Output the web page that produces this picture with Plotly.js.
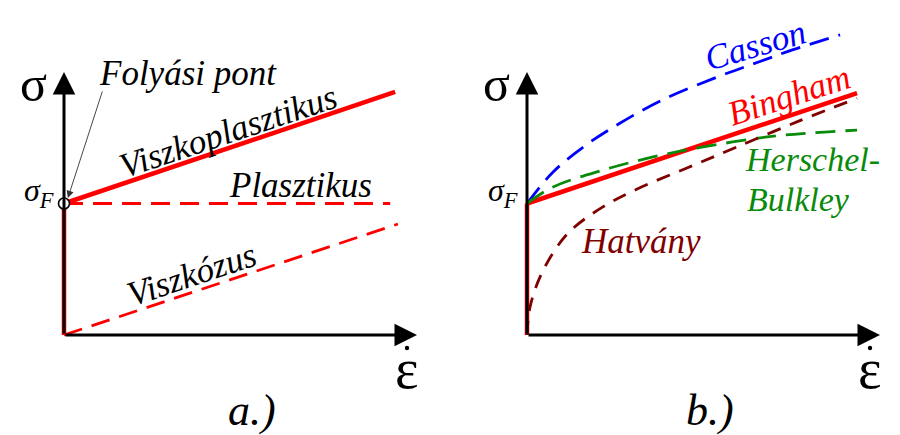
<!DOCTYPE html>
<html>
<head>
<meta charset="utf-8">
<script src="https://cdn.plot.ly/plotly-3.0.1.min.js"></script>
<style>html,body{margin:0;padding:0;background:#fff;}#chart{width:900px;height:435px;}</style>
</head>
<body>
<div id="chart"></div>
<script>
// ---- Data (panel a) ----
const yieldStress = 5;
const viscoplasticX = [0, 9.38];
const viscoplasticY = [5, 9.24];
const plasticX = [0, 9.24];
const plasticY = [5, 5];
const viscousX = [0, 9.46];
const viscousY = [0, 4.22];
const yieldRiseX = [0, 0];
const yieldRiseY = [0, 5];

// ---- Data (panel b) ----
const binghamX = [0, 9.35];
const binghamY = [5, 9.2];
const cassonX = [0, 0.74, 1.70, 2.63, 3.85, 5.47, 6.60, 7.54, 8.87];
const cassonY = [5, 6.2, 7.25, 8.05, 8.95, 9.85, 10.4, 10.85, 11.41];
const hbX = [0, 0.74, 2.15, 3.57, 4.99, 6.80, 8.02, 9.35];
const hbY = [5, 5.63, 6.27, 6.77, 7.15, 7.53, 7.68, 7.79];
const powerX = [0, 0.085, 0.37, 0.85, 1.30, 2.15, 3.12, 4.53, 5.95, 7.73, 9.35];
const powerY = [0, 1.06, 2.21, 3.35, 4.05, 4.87, 5.55, 6.35, 7.15, 8.15, 9.0];

const labelsA = ['Folyási pont', 'Viszkoplasztikus', 'Plasztikus', 'Viszkózus'];
const labelsB = ['Casson', 'Bingham', 'Herschel-', 'Bulkley', 'Hatvány'];
const panelTitles = ['a.)', 'b.)'];

const RED = '#ff0000', BLUE = '#0000ff', GREEN = '#0a8a0a', DRED = '#800000';
const SERIF = '"Liberation Serif", "Times New Roman", serif';

function ln(x, y, color, width, dash, xa, ya, shape) {
  return {x: x, y: y, xaxis: xa, yaxis: ya, mode: 'lines', type: 'scatter',
    line: {color: color, width: width, dash: dash || 'solid', shape: shape || 'linear', smoothing: 1},
    hoverinfo: 'skip', showlegend: false};
}

const traces = [
  ln(plasticX, plasticY, RED, 2.8, '19px,10px', 'x', 'y'),
  ln(viscousX, viscousY, RED, 2.8, '19px,10px', 'x', 'y'),
  ln(yieldRiseX, yieldRiseY, RED, 4.5, 'solid', 'x', 'y'),
  ln(viscoplasticX, viscoplasticY, RED, 4.5, 'solid', 'x', 'y'),
  {x: [0], y: [yieldStress], xaxis: 'x', yaxis: 'y', mode: 'markers', type: 'scatter', cliponaxis: false,
   marker: {symbol: 'circle', size: 11, color: '#ffffff', line: {color: '#000', width: 1.6}},
   hoverinfo: 'skip', showlegend: false},

  ln(cassonX, cassonY, BLUE, 2.8, '20px,10px', 'x2', 'y2', 'spline'),
  ln(yieldRiseX, yieldRiseY, RED, 4.5, 'solid', 'x2', 'y2'),
  ln(binghamX, binghamY, RED, 4.5, 'solid', 'x2', 'y2'),
  ln(hbX, hbY, GREEN, 2.8, '20px,10px', 'x2', 'y2', 'spline'),
  ln(powerX, powerY, DRED, 2.8, '14px,10px', 'x2', 'y2', 'spline')
];

function axisArrow(xa, ya, x, y) {
  return {xref: xa, yref: ya, axref: xa, ayref: ya, x: x, y: y, ax: 0, ay: 0,
    text: '', showarrow: true, arrowhead: 2, arrowsize: 1.5, arrowwidth: 3, arrowcolor: '#000', standoff: 0};
}
function lbl(xa, ya, x, y, text, color, size, angle, xanchor) {
  return {xref: xa, yref: ya, x: x, y: y, text: '<i>' + text + '</i>', showarrow: false,
    font: {family: SERIF, size: size, color: color}, textangle: angle || 0,
    xanchor: xanchor || 'center', yanchor: 'middle'};
}
function ptxt(px, py, text, size) {
  return {xref: 'paper', yref: 'paper', x: px / 900, y: 1 - py / 435, text: text, showarrow: false,
    font: {family: SERIF, size: size, color: '#000'}, xanchor: 'center', yanchor: 'middle'};
}
// small dot above the strain-rate symbol (decoration)
function dotShape(px, py, r) {
  return {type: 'circle', xref: 'paper', yref: 'paper', layer: 'above',
    x0: (px - r) / 900, x1: (px + r) / 900, y0: 1 - (py + r) / 435, y1: 1 - (py - r) / 435,
    fillcolor: '#000', line: {width: 0}};
}

const annotations = [
  axisArrow('x', 'y', 10, 0), axisArrow('x', 'y', 0, 10),
  axisArrow('x2', 'y2', 10, 0), axisArrow('x2', 'y2', 0, 10),
  {xref: 'x', yref: 'y', axref: 'x', ayref: 'y', x: 0.11, y: 5.21, ax: 1.10, ay: 9.32, text: '',
   showarrow: true, arrowhead: 2, arrowsize: 1.6, arrowwidth: 0.9, arrowcolor: '#333', standoff: 0},
  lbl('x', 'y', 3.51, 9.95, labelsA[0], '#000', 35),
  lbl('x', 'y', 4.65, 7.72, labelsA[1], '#000', 35, -18.5),
  lbl('x', 'y', 6.69, 5.68, labelsA[2], '#000', 35),
  lbl('x', 'y', 3.63, 2.3, labelsA[3], '#000', 35, -18.4),
  lbl('x2', 'y2', 6.46, 11.0, labelsB[0], BLUE, 35, -16),
  lbl('x2', 'y2', 7.42, 9.1, labelsB[1], RED, 35, -18),
  lbl('x2', 'y2', 6.12, 6.66, labelsB[2], GREEN, 34, 0, 'left'),
  lbl('x2', 'y2', 6.18, 5.17, labelsB[3], GREEN, 34, 0, 'left'),
  lbl('x2', 'y2', 3.23, 3.55, labelsB[4], DRED, 35),
  ptxt(33, 84, 'σ', 50),
  ptxt(497, 84, 'σ', 50),
  ptxt(39, 193, '<i>σ</i><sub><i>F</i></sub>', 32),
  ptxt(503, 193, '<i>σ</i><sub><i>F</i></sub>', 32),
  ptxt(407, 369, 'ε', 56),
  ptxt(870, 369, 'ε', 56),
  ptxt(252, 410, '<i>' + panelTitles[0] + '</i>', 44),
  ptxt(710, 410, '<i>' + panelTitles[1] + '</i>', 44)
];

const yDomain = [1 - 348.15 / 435, 1 - 19.4 / 435];
const hidden = {visible: false, showgrid: false, zeroline: false, fixedrange: true};
const layout = {
  width: 900, height: 435, margin: {l: 0, r: 0, t: 0, b: 0},
  font: {family: SERIF, color: '#000'},
  paper_bgcolor: '#fff', plot_bgcolor: 'rgba(0,0,0,0)', showlegend: false,
  xaxis: Object.assign({}, hidden, {domain: [46.35 / 900, 434.65 / 900], range: [-0.5, 10.5]}),
  yaxis: Object.assign({}, hidden, {domain: yDomain, range: [-0.5, 12]}),
  xaxis2: Object.assign({}, hidden, {domain: [509.35 / 900, 897.65 / 900], range: [-0.5, 10.5]}),
  yaxis2: Object.assign({}, hidden, {domain: yDomain, range: [-0.5, 12]}),
  shapes: [dotShape(407, 348, 2.2), dotShape(870, 348, 2.2)],
  annotations: annotations
};
Plotly.newPlot('chart', traces, layout, {staticPlot: true, displayModeBar: false});
</script>
</body>
</html>
